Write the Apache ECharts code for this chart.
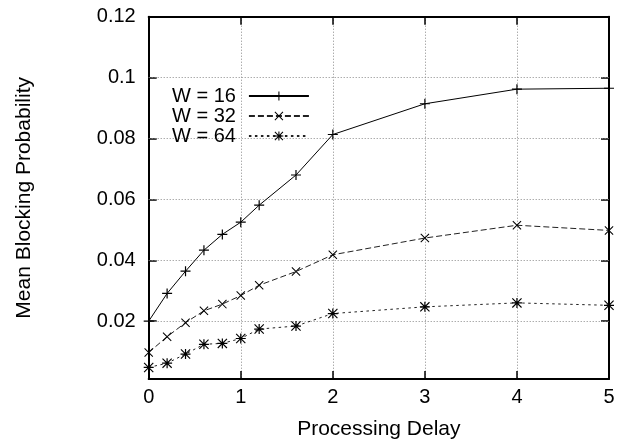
<!DOCTYPE html>
<html>
<head>
<meta charset="utf-8">
<script src="https://cdn.jsdelivr.net/npm/echarts@6/dist/echarts.min.js"></script>
<style>html,body{margin:0;padding:0;background:#fff}#c{width:631px;height:445px}</style>
</head>
<body>
<div id="c"></div>
<script>
const xValues = [0, 0.2, 0.4, 0.6, 0.8, 1.0, 1.2, 1.6, 2, 3, 4, 5];
const w16 = [0.0200, 0.0291, 0.0364, 0.0433, 0.0485, 0.0525, 0.0581, 0.0680, 0.0813, 0.0914, 0.0962, 0.0965];
const w32 = [0.0097, 0.0149, 0.0195, 0.0234, 0.0256, 0.0284, 0.0318, 0.0363, 0.0418, 0.0473, 0.0515, 0.0498];
const w64 = [0.0048, 0.0062, 0.0092, 0.0124, 0.0127, 0.0143, 0.0174, 0.0184, 0.0225, 0.0247, 0.0260, 0.0252];
const seriesNames = ['W = 16', 'W = 32', 'W = 64'];
const xTickLabels = ['0', '1', '2', '3', '4', '5'];
const yTickValues = [0.02, 0.04, 0.06, 0.08, 0.1, 0.12];
const yTickLabels = ['0.02', '0.04', '0.06', '0.08', '0.1', '0.12'];

const FONT = 'Liberation Sans';
const plus = 'path://M4.4,0H5.6V10H4.4Z M0,4.4H10V5.6H0Z';
const cross = 'path://M0,0.8L0.8,0L10,9.2L9.2,10Z M9.2,0L10,0.8L0.8,10L0,9.2Z';
const star = 'path://M4.4,0H5.6V10H4.4Z M0,4.4H10V5.6H0Z M0,0.8L0.8,0L10,9.2L9.2,10Z M9.2,0L10,0.8L0.8,10L0,9.2Z';

function pairs(ys) { return xValues.map((x, i) => [x, ys[i]]); }
function yLabel(v) {
  const i = yTickValues.findIndex(t => Math.abs(t - v) < 1e-9);
  return i >= 0 ? yTickLabels[i] : '';
}

const axisLineStyle = { color: '#000', width: 2 };
const gridLineStyle = { color: '#888', width: 1, type: [1, 2] };
const tickStyle = { color: '#000', width: 1.5 };

const chart = echarts.init(document.getElementById('c'), null, { renderer: 'canvas' });
chart.setOption({
  animation: false,
  backgroundColor: '#fff',
  grid: { left: 148.7, right: 22, top: 16.7, bottom: 65.7, containLabel: false },
  legend: {
    orient: 'vertical', left: 167, top: 81, align: 'right',
    itemWidth: 60, itemHeight: 11, itemGap: 0,
    data: seriesNames,
    textStyle: { fontFamily: FONT, fontSize: 20, color: '#000', padding: [0, 8, 0, 0], lineHeight: 19 }
  },
  xAxis: [{
    type: 'value', min: 0, max: 5, interval: 1, position: 'bottom',
    name: 'Processing Delay', nameLocation: 'middle', nameGap: 40,
    nameTextStyle: { fontFamily: FONT, fontSize: 21, color: '#000' },
    axisLine: { show: true, lineStyle: axisLineStyle },
    axisTick: { show: true, inside: true, length: 8, lineStyle: tickStyle },
    axisLabel: { fontFamily: FONT, fontSize: 20, color: '#000', margin: 8,
      formatter: v => xTickLabels[Math.round(v)] ?? '' },
    splitLine: { show: true, lineStyle: gridLineStyle }
  }, {
    type: 'value', min: 0, max: 5, interval: 1, position: 'top',
    axisLine: { show: true, onZero: false, lineStyle: axisLineStyle },
    axisTick: { show: true, inside: true, length: 8, lineStyle: tickStyle },
    axisLabel: { show: false }, splitLine: { show: false }
  }],
  yAxis: [{
    type: 'value', min: 0.001, max: 0.12, position: 'left',
    name: 'Mean Blocking Probability', nameLocation: 'middle', nameGap: 114,
    nameTextStyle: { fontFamily: FONT, fontSize: 21, color: '#000' },
    axisLine: { show: true, onZero: false, lineStyle: axisLineStyle },
    axisTick: { show: true, inside: true, length: 8, lineStyle: tickStyle, customValues: yTickValues },
    axisLabel: { fontFamily: FONT, fontSize: 20, color: '#000', margin: 13, customValues: yTickValues,
      formatter: yLabel },
    splitLine: { show: false }
  }, {
    type: 'value', min: 0.001, max: 0.12, position: 'right',
    axisLine: { show: true, onZero: false, lineStyle: axisLineStyle },
    axisTick: { show: true, inside: true, length: 8, lineStyle: tickStyle, customValues: yTickValues },
    axisLabel: { show: false }, splitLine: { show: false }
  }],
  series: [{
    name: seriesNames[0], type: 'line', data: pairs(w16), xAxisIndex: 0, yAxisIndex: 0,
    symbol: plus, symbolSize: 10, showAllSymbol: true, z: 3,
    lineStyle: { color: '#000', width: 1, type: 'solid' },
    itemStyle: { color: '#000' },
    markLine: {
      silent: true, symbol: 'none', z: 1, label: { show: false },
      lineStyle: gridLineStyle,
      data: yTickValues.slice(0, -1).map(v => ({ yAxis: v }))
    }
  }, {
    name: seriesNames[1], type: 'line', data: pairs(w32), xAxisIndex: 0, yAxisIndex: 0,
    symbol: cross, symbolSize: 9, showAllSymbol: true, z: 3,
    lineStyle: { color: '#222', width: 1, type: [6, 3] },
    itemStyle: { color: '#000' }
  }, {
    name: seriesNames[2], type: 'line', data: pairs(w64), xAxisIndex: 0, yAxisIndex: 0,
    symbol: star, symbolSize: 10, showAllSymbol: true, z: 3,
    lineStyle: { color: '#222', width: 1, type: [2.5, 3.5] },
    itemStyle: { color: '#000' }
  }]
});
</script>
</body>
</html>
